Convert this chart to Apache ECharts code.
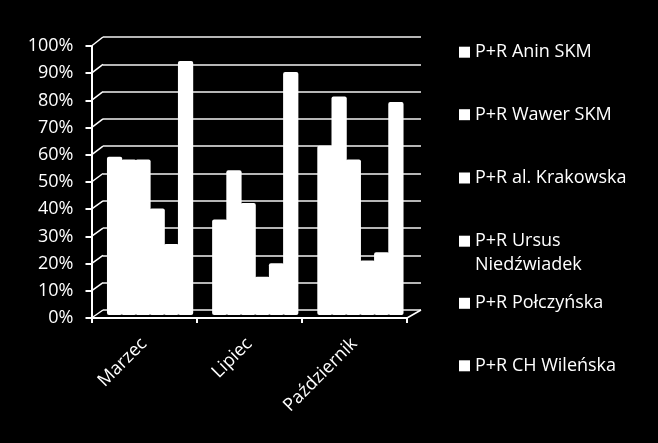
<!DOCTYPE html>
<html>
<head>
<meta charset="utf-8">
<script src="https://cdn.jsdelivr.net/npm/echarts@6/dist/echarts.min.js"></script>
<style>
html,body{margin:0;padding:0;background:#000;}
#chart{width:658px;height:443px;}
</style>
</head>
<body>
<div id="chart"></div>
<script>
// ---- data ----
const categories = ['Marzec', 'Lipiec', 'Październik'];
const seriesNames = ['P+R Anin SKM', 'P+R Wawer SKM', 'P+R al. Krakowska', 'P+R Ursus Niedźwiadek', 'P+R Połczyńska', 'P+R CH Wileńska'];
const aninSKM       = [0.58, 0.35, 0.62];
const wawerSKM      = [0.57, 0.53, 0.80];
const alKrakowska   = [0.57, 0.41, 0.57];
const ursusNiedzw   = [0.39, 0.14, 0.20];
const polczynska    = [0.26, 0.19, 0.23];
const chWilenska    = [0.93, 0.89, 0.78];
const yTickValues = [0, 0.1, 0.2, 0.3, 0.4, 0.5, 0.6, 0.7, 0.8, 0.9, 1];

const seriesValues = [aninSKM, wawerSKM, alKrakowska, ursusNiedzw, polczynska, chWilenska];

// ---- layout ----
const FONT = 'Open Sans';
const FS = 18;
const FRONT = {left: 91.5, top: 46, width: 315.5, height: 272};
const BACK  = {left: 103, top: 37, width: 318, height: 273};
const MID   = {left: 97.5, top: 42, width: 315.5, height: 273};
const legendCenters = [52.2, 114.7, 178, 241.2, 303.3, 365.8];

const chart = echarts.init(document.getElementById('chart'), null, {renderer: 'canvas'});

const legends = seriesNames.map((n, i) => {
  const two = (i === 3);
  return {
    data: [n],
    left: 459,
    top: two ? legendCenters[i] - 36 : legendCenters[i] - 12,
    orient: 'vertical',
    padding: 0,
    itemGap: 0,
    itemWidth: 11,
    itemHeight: 11,
    icon: 'rect',
    selectedMode: false,
    formatter: two ? function () { return ' \nP+R Ursus\nNiedźwiadek'; } : undefined,
    textStyle: {
      color: '#fff', fontFamily: FONT, fontSize: FS, lineHeight: 24
    }
  };
});

const option = {
  backgroundColor: '#000',
  animation: false,
  legend: legends,
  grid: [
    Object.assign({containLabel: false}, FRONT),
    Object.assign({containLabel: false}, BACK),
    Object.assign({containLabel: false}, MID)
  ],
  xAxis: [
    {
      gridIndex: 0, type: 'category', data: categories, boundaryGap: true,
      axisLine: {show: true, lineStyle: {color: '#fff', width: 2}},
      axisTick: {show: true, length: 5, lineStyle: {color: '#fff', width: 2}},
      axisLabel: {color: '#fff', fontFamily: FONT, fontSize: FS, rotate: 45, margin: 23, interval: 0},
      splitLine: {show: false}
    },
    {
      gridIndex: 1, type: 'category', data: categories, show: false
    },
    {
      gridIndex: 2, type: 'category', data: categories, show: false
    }
  ],
  yAxis: [
    {
      gridIndex: 0, type: 'value', min: 0, max: 1, interval: 0.1,
      axisLine: {show: true, lineStyle: {color: '#fff', width: 2}},
      axisTick: {show: true, length: 6, lineStyle: {color: '#fff', width: 2}},
      axisLabel: {color: '#fff', fontFamily: FONT, fontSize: FS, margin: 18,
        formatter: v => Math.round(v * 100) + '%'},
      splitLine: {show: false}
    },
    {
      gridIndex: 1, type: 'value', min: 0, max: 1, interval: 0.1,
      axisLine: {show: false}, axisTick: {show: false}, axisLabel: {show: false},
      splitLine: {show: true, lineStyle: {color: '#f2f2f2', width: 1.5}}
    },
    {
      gridIndex: 2, type: 'value', min: 0, max: 1, interval: 0.1, show: false
    }
  ],
  series: seriesNames.map((n, i) => ({
    name: n,
    type: 'bar',
    xAxisIndex: 2, yAxisIndex: 2,
    data: seriesValues[i],
    barGap: '-7%',
    barCategoryGap: '18%',
    itemStyle: {color: '#fff', borderRadius: 2},
    emphasis: {disabled: true}
  }))
};

chart.setOption(option);

// 3D frame decorations: diagonals from the front axis ticks to the back wall
const elements = [];
yTickValues.forEach(v => {
  const yf = chart.convertToPixel({yAxisIndex: 0}, v);
  const yb = chart.convertToPixel({yAxisIndex: 1}, v);
  elements.push({
    type: 'line', silent: true,
    shape: {x1: FRONT.left, y1: yf, x2: BACK.left, y2: yb},
    style: {stroke: '#fff', lineWidth: 1.5}
  });
});
{
  const yf = chart.convertToPixel({yAxisIndex: 0}, 0);
  const yb = chart.convertToPixel({yAxisIndex: 1}, 0);
  elements.push({
    type: 'line', silent: true,
    shape: {x1: FRONT.left + FRONT.width, y1: yf, x2: BACK.left + BACK.width, y2: yb},
    style: {stroke: '#fff', lineWidth: 1.5}
  });
}
chart.setOption({graphic: {elements: elements}});
</script>
</body>
</html>
